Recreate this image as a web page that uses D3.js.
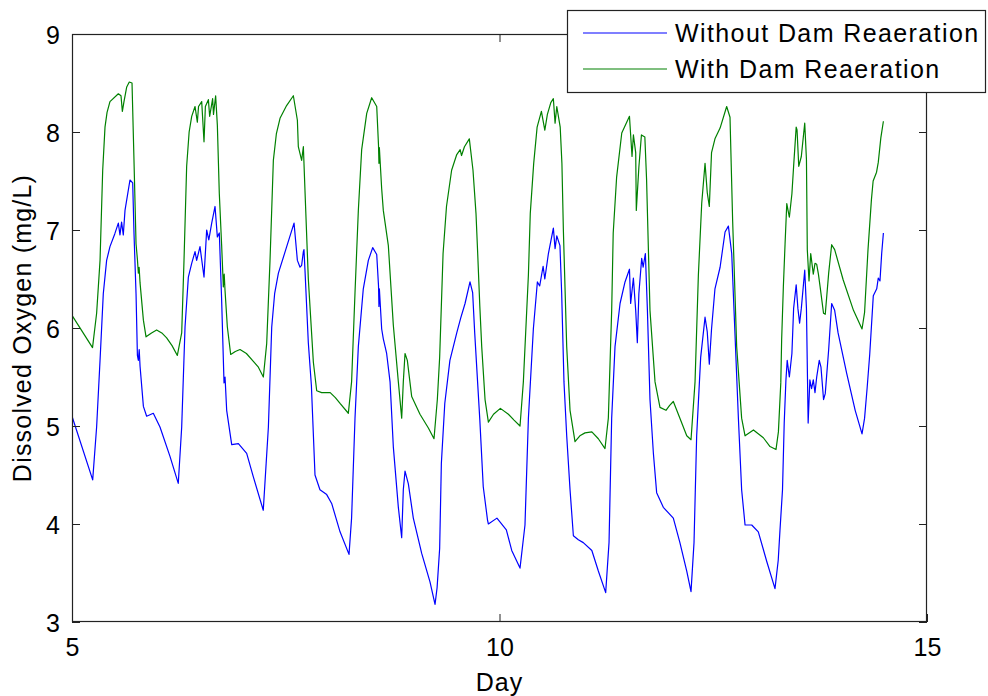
<!DOCTYPE html>
<html>
<head>
<meta charset="utf-8">
<script src="https://cdn.jsdelivr.net/npm/d3@7"></script>
<style>
  html, body { margin: 0; padding: 0; background: #fff; }
  svg { display: block; }
  text { font-family: "Liberation Sans", Arial, Helvetica, sans-serif; fill: #000; }
</style>
</head>
<body>
<svg id="chart" width="988" height="696"></svg>
<script>
// Dissolved oxygen simulation, days 5–14.5: [day, mg/L]
const withoutDam = [[5.00,5.10],[5.242,4.45],[5.288,4.99],[5.328,5.67],[5.366,6.35],[5.405,6.69],[5.444,6.83],[5.50,6.96],[5.542,7.07],[5.561,6.95],[5.58,7.08],[5.60,6.95],[5.62,7.20],[5.678,7.51],[5.71,7.48],[5.725,6.97],[5.749,6.35],[5.765,5.72],[5.776,5.67],[5.786,5.78],[5.796,5.61],[5.835,5.20],[5.873,5.10],[5.951,5.13],[6.029,4.99],[6.146,4.69],[6.243,4.415],[6.283,4.99],[6.322,6.01],[6.361,6.52],[6.40,6.66],[6.439,6.78],[6.458,6.69],[6.497,6.83],[6.544,6.52],[6.575,7.00],[6.60,6.90],[6.634,7.07],[6.673,7.24],[6.70,6.93],[6.723,6.97],[6.75,6.29],[6.778,5.44],[6.79,5.50],[6.809,5.16],[6.868,4.81],[6.946,4.82],[7.043,4.72],[7.121,4.48],[7.237,4.14],[7.297,4.99],[7.336,6.01],[7.37,6.35],[7.414,6.56],[7.511,6.83],[7.597,7.07],[7.636,6.69],[7.667,6.62],[7.686,6.64],[7.706,6.78],[7.713,6.80],[7.725,6.59],[7.764,5.85],[7.80,5.41],[7.842,4.50],[7.90,4.35],[7.979,4.30],[8.037,4.21],[8.135,3.92],[8.24,3.69],[8.27,4.06],[8.31,5.08],[8.349,5.81],[8.407,6.40],[8.466,6.69],[8.517,6.82],[8.564,6.75],[8.585,6.43],[8.59,6.22],[8.595,6.40],[8.622,5.99],[8.641,5.89],[8.68,5.74],[8.72,5.45],[8.758,4.79],[8.817,4.17],[8.856,3.86],[8.875,4.35],[8.895,4.54],[8.934,4.41],[8.992,4.06],[9.09,3.70],[9.187,3.41],[9.246,3.18],[9.27,3.35],[9.30,3.75],[9.32,4.62],[9.36,5.23],[9.42,5.67],[9.50,5.95],[9.546,6.10],[9.597,6.25],[9.655,6.47],[9.686,6.36],[9.71,5.95],[9.77,5.06],[9.81,4.38],[9.86,4.04],[9.87,4.00],[9.97,4.06],[10.08,3.94],[10.143,3.73],[10.24,3.55],[10.298,3.99],[10.338,5.08],[10.396,5.99],[10.443,6.47],[10.47,6.43],[10.51,6.63],[10.53,6.50],[10.572,6.76],[10.63,7.02],[10.65,6.81],[10.67,6.94],[10.707,6.84],[10.727,6.36],[10.754,5.45],[10.786,4.90],[10.825,4.35],[10.864,3.88],[10.922,3.84],[10.98,3.81],[11.08,3.73],[11.156,3.52],[11.242,3.30],[11.281,3.81],[11.312,5.08],[11.351,5.81],[11.41,6.25],[11.468,6.47],[11.52,6.60],[11.534,6.25],[11.566,6.51],[11.593,6.18],[11.612,5.85],[11.63,6.35],[11.663,6.71],[11.68,6.62],[11.706,6.76],[11.73,6.18],[11.76,5.27],[11.80,4.72],[11.838,4.32],[11.916,4.17],[12.033,4.06],[12.11,3.81],[12.19,3.52],[12.24,3.31],[12.275,3.81],[12.306,4.90],[12.353,5.70],[12.404,6.11],[12.43,5.96],[12.454,5.63],[12.48,5.99],[12.52,6.40],[12.58,6.62],[12.638,6.98],[12.677,7.04],[12.716,6.76],[12.743,6.18],[12.794,5.08],[12.832,4.35],[12.872,3.99],[12.95,3.99],[13.027,3.92],[13.125,3.62],[13.222,3.34],[13.26,3.63],[13.28,3.93],[13.31,4.35],[13.33,5.03],[13.35,5.47],[13.365,5.67],[13.39,5.50],[13.42,5.74],[13.44,6.20],[13.47,6.44],[13.49,6.20],[13.51,6.05],[13.53,6.20],[13.57,6.59],[13.59,6.20],[13.61,5.03],[13.63,5.47],[13.65,5.38],[13.67,5.47],[13.69,5.34],[13.71,5.50],[13.74,5.67],[13.76,5.60],[13.79,5.27],[13.81,5.33],[13.85,5.78],[13.885,6.25],[13.92,6.18],[13.96,5.95],[14.06,5.54],[14.16,5.16],[14.24,4.92],[14.27,5.08],[14.30,5.39],[14.33,5.73],[14.372,6.33],[14.412,6.40],[14.43,6.51],[14.45,6.48],[14.47,6.76],[14.49,6.97]];

const withDam = [[5.00,6.13],[5.24,5.80],[5.288,6.15],[5.328,6.69],[5.359,7.61],[5.386,8.05],[5.41,8.20],[5.444,8.31],[5.542,8.39],[5.573,8.37],[5.589,8.21],[5.608,8.31],[5.64,8.46],[5.67,8.51],[5.702,8.50],[5.725,7.71],[5.749,6.86],[5.765,6.70],[5.776,6.56],[5.785,6.62],[5.796,6.46],[5.835,6.08],[5.866,5.91],[5.93,5.95],[5.99,5.98],[6.05,5.95],[6.107,5.90],[6.17,5.82],[6.232,5.72],[6.283,5.95],[6.31,6.69],[6.341,7.65],[6.37,8.00],[6.40,8.16],[6.439,8.26],[6.466,8.10],[6.48,8.26],[6.517,8.31],[6.544,7.90],[6.56,8.26],[6.595,8.33],[6.61,8.16],[6.645,8.34],[6.655,8.18],[6.68,8.37],[6.70,8.07],[6.723,7.37],[6.75,6.85],[6.77,6.42],[6.78,6.55],[6.79,6.38],[6.817,6.01],[6.856,5.73],[6.91,5.76],[6.965,5.78],[7.04,5.74],[7.121,5.66],[7.18,5.60],[7.238,5.50],[7.277,5.84],[7.316,6.69],[7.355,7.71],[7.39,7.98],[7.433,8.14],[7.51,8.27],[7.589,8.37],[7.636,8.12],[7.647,7.85],[7.686,7.71],[7.706,7.85],[7.725,7.40],[7.764,6.50],[7.823,5.65],[7.862,5.36],[7.92,5.34],[8.02,5.34],[8.08,5.29],[8.135,5.23],[8.232,5.13],[8.27,5.45],[8.31,6.36],[8.349,7.20],[8.388,7.82],[8.447,8.19],[8.505,8.35],[8.564,8.26],[8.585,7.86],[8.59,7.68],[8.595,7.84],[8.622,7.42],[8.641,7.20],[8.70,6.84],[8.758,6.03],[8.817,5.45],[8.856,5.08],[8.875,5.45],[8.895,5.74],[8.922,5.67],[8.973,5.30],[9.07,5.12],[9.168,4.98],[9.234,4.87],[9.273,5.27],[9.30,5.70],[9.34,6.76],[9.38,7.24],[9.44,7.61],[9.50,7.77],[9.54,7.82],[9.556,7.76],[9.59,7.85],[9.647,7.93],[9.69,7.61],[9.725,7.17],[9.745,6.76],[9.77,6.22],[9.792,5.81],[9.831,5.27],[9.87,5.04],[9.93,5.12],[10.01,5.18],[10.104,5.12],[10.17,5.06],[10.24,5.00],[10.279,5.45],[10.338,6.54],[10.36,7.17],[10.40,7.68],[10.44,8.05],[10.49,8.21],[10.53,8.02],[10.56,8.18],[10.60,8.30],[10.63,8.34],[10.65,8.09],[10.67,8.26],[10.71,8.05],[10.73,7.68],[10.747,7.00],[10.786,5.81],[10.825,5.16],[10.883,4.84],[10.94,4.90],[11.00,4.93],[11.08,4.94],[11.156,4.87],[11.234,4.77],[11.273,5.08],[11.312,6.18],[11.33,6.97],[11.37,7.54],[11.43,7.99],[11.52,8.16],[11.55,7.75],[11.566,7.97],[11.593,7.79],[11.60,7.20],[11.63,7.64],[11.66,7.97],[11.70,7.95],[11.72,7.52],[11.76,6.18],[11.819,5.45],[11.877,5.19],[11.947,5.16],[11.99,5.21],[12.033,5.25],[12.11,5.08],[12.19,4.90],[12.24,4.86],[12.287,5.45],[12.326,6.54],[12.365,7.27],[12.404,7.68],[12.43,7.38],[12.454,7.24],[12.48,7.79],[12.52,7.93],[12.58,8.04],[12.657,8.26],[12.696,8.15],[12.727,7.09],[12.774,5.81],[12.832,5.08],[12.872,4.90],[12.97,4.96],[13.086,4.88],[13.164,4.79],[13.234,4.76],[13.262,4.94],[13.29,5.44],[13.30,5.88],[13.32,6.42],[13.34,6.86],[13.36,7.27],[13.39,7.13],[13.42,7.37],[13.44,7.65],[13.47,8.05],[13.48,8.02],[13.50,7.65],[13.53,7.75],[13.57,8.09],[13.59,7.72],[13.60,6.80],[13.62,6.48],[13.64,6.76],[13.67,6.55],[13.69,6.66],[13.71,6.65],[13.73,6.55],[13.75,6.42],[13.79,6.15],[13.81,6.14],[13.85,6.56],[13.885,6.85],[13.92,6.80],[14.02,6.49],[14.14,6.18],[14.24,5.99],[14.27,6.16],[14.31,6.80],[14.35,7.31],[14.37,7.50],[14.41,7.59],[14.43,7.69],[14.46,7.94],[14.49,8.11]];

const seriesNames = ["Without Dam Reaeration", "With Dam Reaeration"];
const seriesColors = ["#0000ff", "#008000"];
const xTicks = [5, 10, 15];
const yTicks = [3, 4, 5, 6, 7, 8, 9];
const xTitle = "Day";
const yTitle = "Dissolved Oxygen (mg/L)";

(function draw() {
  const svg = d3.select("#chart");
  const box = { left: 72, right: 927, top: 34, bottom: 622 };

  const x = d3.scaleLinear().domain([5, 15]).range([box.left, box.right]);
  const y = d3.scaleLinear().domain([3, 9]).range([box.bottom, box.top]);

  const series = [
    { name: seriesNames[0], color: seriesColors[0], pts: withoutDam },
    { name: seriesNames[1], color: seriesColors[1], pts: withDam }
  ];

  // clip lines to the axes box
  svg.append("defs").append("clipPath").attr("id", "plotClip")
    .append("rect").attr("x", box.left).attr("y", box.top)
    .attr("width", box.right - box.left).attr("height", box.bottom - box.top);

  const line = d3.line().x(d => x(d[0])).y(d => y(d[1]));
  const plot = svg.append("g").attr("clip-path", "url(#plotClip)");
  series.forEach(s => {
    plot.append("path")
      .attr("d", line(s.pts))
      .attr("fill", "none")
      .attr("stroke", s.color)
      .attr("stroke-width", 1.2)
      .attr("stroke-linejoin", "round");
  });

  // axes with inward ticks on all four sides
  const tickLen = 8;
  const axisColor = "#222";
  const fontSize = 25;

  const gBottom = svg.append("g").attr("transform", `translate(0,${box.bottom})`)
    .call(d3.axisBottom(x).tickValues(xTicks).tickSizeInner(-tickLen).tickSizeOuter(0).tickPadding(16).tickFormat(d3.format("d")));
  const gTop = svg.append("g").attr("transform", `translate(0,${box.top})`)
    .call(d3.axisTop(x).tickValues(xTicks).tickSizeInner(-tickLen).tickSizeOuter(0).tickFormat(""));
  const gLeft = svg.append("g").attr("transform", `translate(${box.left},0)`)
    .call(d3.axisLeft(y).tickValues(yTicks).tickSizeInner(-tickLen).tickSizeOuter(0).tickPadding(12).tickFormat(d3.format("d")));
  const gRight = svg.append("g").attr("transform", `translate(${box.right},0)`)
    .call(d3.axisRight(y).tickValues(yTicks).tickSizeInner(-tickLen).tickSizeOuter(0).tickFormat(""));

  [gBottom, gTop, gLeft, gRight].forEach(g => {
    g.select(".domain").remove();
    g.selectAll(".tick line").attr("stroke", axisColor).attr("stroke-width", 1);
    g.selectAll(".tick text")
      .attr("font-family", "'Liberation Sans', Arial, sans-serif")
      .attr("font-size", fontSize)
      .attr("fill", "#000");
  });
  gLeft.selectAll(".tick text").attr("dy", "0.36em");

  // box outline
  svg.append("rect")
    .attr("x", box.left + 0.5).attr("y", box.top + 0.5)
    .attr("width", box.right - box.left - 1).attr("height", box.bottom - box.top - 1)
    .attr("fill", "none").attr("stroke", axisColor).attr("stroke-width", 1.2);

  // axis titles
  svg.append("text")
    .attr("x", (box.left + box.right) / 2).attr("y", 691)
    .attr("text-anchor", "middle")
    .attr("font-size", fontSize)
    .attr("letter-spacing", 1)
    .text(xTitle);

  svg.append("text")
    .attr("transform", `translate(31,${(box.top + box.bottom) / 2}) rotate(-90)`)
    .attr("text-anchor", "middle")
    .attr("font-size", fontSize)
    .attr("letter-spacing", 1.2)
    .text(yTitle);

  // legend
  const lg = svg.append("g");
  lg.append("rect")
    .attr("x", 567.5).attr("y", 10.5).attr("width", 418).attr("height", 82)
    .attr("fill", "#fff").attr("stroke", axisColor).attr("stroke-width", 1.2);
  series.forEach((s, i) => {
    const cy = 33 + i * 36;
    lg.append("line")
      .attr("x1", 583).attr("x2", 667).attr("y1", cy).attr("y2", cy)
      .attr("stroke", s.color).attr("stroke-width", 1.2);
    lg.append("text")
      .attr("x", 675).attr("y", cy + 9)
      .attr("font-size", fontSize)
      .attr("letter-spacing", 1.4)
      .text(s.name);
  });
})();
</script>
</body>
</html>
